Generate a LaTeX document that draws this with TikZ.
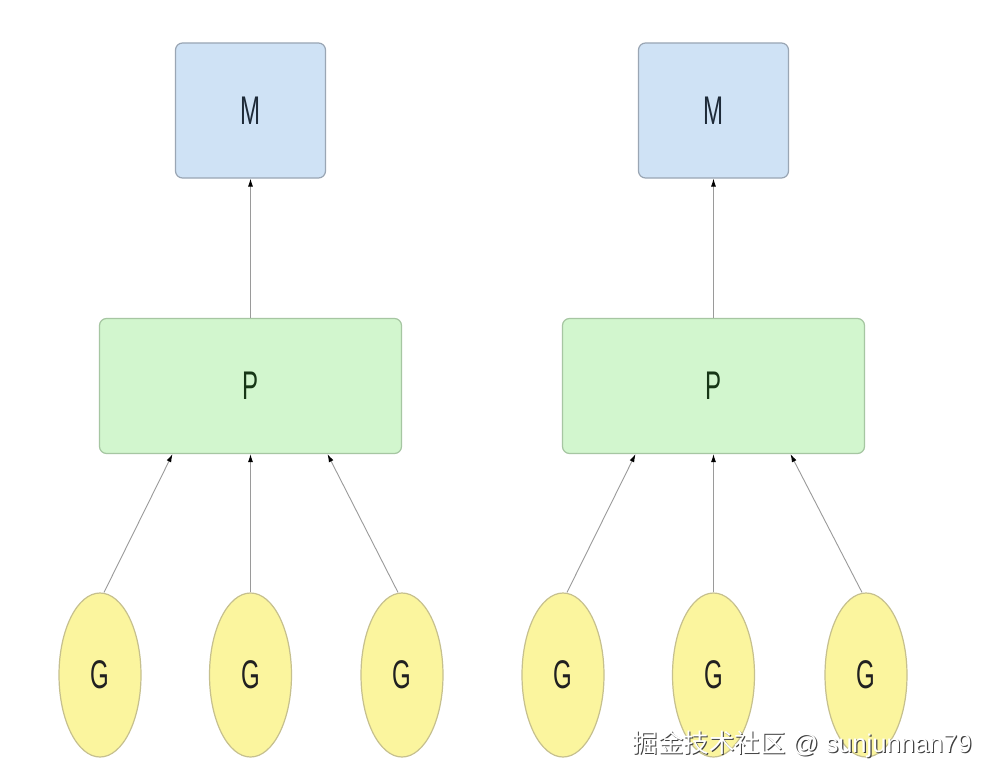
\documentclass[tikz,border=0pt]{standalone}
\usepackage{fontspec}
\setmainfont{Liberation Sans}
\newfontfamily\cjk{Noto Sans CJK SC}
\usetikzlibrary{arrows.meta,shapes.geometric}
\definecolor{mfill}{HTML}{CFE2F5}
\definecolor{mdraw}{HTML}{9AA6B4}
\definecolor{pfill}{HTML}{D2F6CE}
\definecolor{pdraw}{HTML}{A6C6A2}
\definecolor{gfill}{HTML}{FBF59E}
\definecolor{gdraw}{HTML}{C6C08E}
\definecolor{linec}{HTML}{9A9A9A}
\definecolor{mtext}{HTML}{1E2A38}
\definecolor{ptext}{HTML}{163616}
\definecolor{gtext}{HTML}{202020}
\tikzset{
  mbox/.style={draw=mdraw, fill=mfill, line width=1.2pt, rounded corners=7pt, minimum width=150pt, minimum height=135pt, inner sep=0pt, text=mtext},
  pbox/.style={draw=pdraw, fill=pfill, line width=1.2pt, rounded corners=7pt, minimum width=302pt, minimum height=135pt, inner sep=0pt, text=ptext},
  gell/.style={ellipse, draw=gdraw, fill=gfill, line width=1.2pt, minimum width=82pt, minimum height=164pt, inner sep=0pt, text=gtext},
  conn/.style={draw=linec, line width=0.9pt, -{Latex[length=8pt,width=5pt,color=black]}},
  lbl/.style={font=\fontsize{40}{40}\selectfont},
  wmark/.style={anchor=west, font=\fontsize{25.5}{25.5}\selectfont}
}
\newcommand{\lab}[1]{\scalebox{0.6}[1]{#1}}
\begin{document}
\begin{tikzpicture}[x=1pt,y=-1pt]
\useasboundingbox (0,0) rectangle (996,781);
\fill[white] (0,0) rectangle (996,781);
% left group
\node[mbox,lbl] (m1) at (250.5,110.5) {\lab{M}};
\node[pbox,lbl] (p1) at (250.5,386) {\lab{P}};
\node[gell,lbl] (g1) at (100,675) {\lab{G}};
\node[gell,lbl] (g2) at (250.5,675) {\lab{G}};
\node[gell,lbl] (g3) at (402,675) {\lab{G}};
% right group
\node[mbox,lbl] (m2) at (713.5,110.5) {\lab{M}};
\node[pbox,lbl] (p2) at (713.5,386) {\lab{P}};
\node[gell,lbl] (g4) at (563,675) {\lab{G}};
\node[gell,lbl] (g5) at (713.5,675) {\lab{G}};
\node[gell,lbl] (g6) at (866,675) {\lab{G}};
% connectors
\draw[conn] (p1.north) -- (m1.south);
\draw[conn] (p2.north) -- (m2.south);
\draw[conn] ([xshift=4pt]g1.north) -- ([xshift=-78pt]p1.south);
\draw[conn] (g2.north) -- (p1.south);
\draw[conn] ([xshift=-4pt]g3.north) -- ([xshift=77pt]p1.south);
\draw[conn] ([xshift=4pt]g4.north) -- ([xshift=-78pt]p2.south);
\draw[conn] (g5.north) -- (p2.south);
\draw[conn] ([xshift=-4pt]g6.north) -- ([xshift=77pt]p2.south);
% watermark
\node[wmark, text=black!75] (wms) at (630.2,745.2) {{\cjk 掘金技术社区} @ sunjunnan79};
\node[wmark, text=white] (wm) at (629,744) {{\cjk 掘金技术社区} @ sunjunnan79};
\end{tikzpicture}
\end{document}
